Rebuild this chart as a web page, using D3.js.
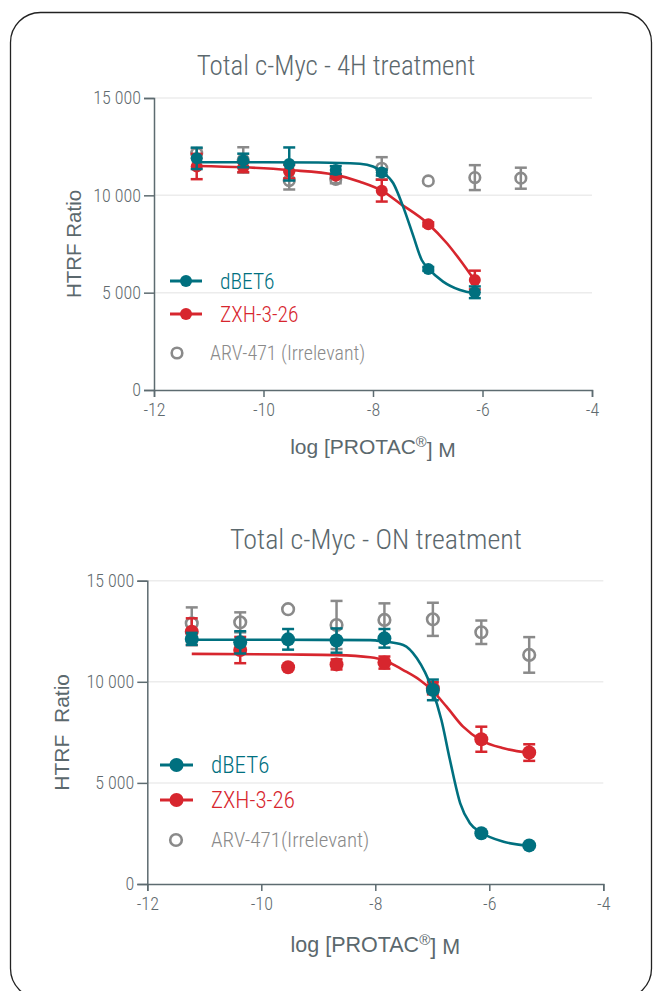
<!DOCTYPE html>
<meta charset="utf-8">
<style>
body { margin: 0; background: #fff; }
svg text { font-family: "Roboto Condensed", "Liberation Sans Narrow", "Liberation Sans", sans-serif; font-weight: 300; }
svg text.wide { font-family: "Liberation Sans", Arial, sans-serif; font-weight: 400; }
.axis path, .axis line { stroke: #5d6b70; stroke-width: 1.5px; }
.axis text { fill: #5f6a6e; }
.grid line { stroke: #ececec; stroke-width: 1.5px; }
</style>
<svg width="654" height="991"></svg>
<script src="https://d3js.org/d3.v7.min.js"></script>
<script>

// log [PROTAC] M, same dilution series in both experiments
var doses = [-11.22, -10.37, -9.53, -8.68, -7.84, -6.99, -6.14, -5.30];
var xTicks = [-12, -10, -8, -6, -4];
var yTicks = [0, 5000, 10000, 15000];

// 4H treatment
var h4_dbet6 = [11900, 11790, 11610, 11300, 11170, 6220, 5020];
var h4_dbet6_err = [550, 350, 850, 200, 150, 100, 300];
var h4_zxh = [11480, 11440, 11220, 11000, 10240, 8510, 5650];
var h4_zxh_err = [650, 250, 350, 100, 560, 100, 480];
var h4_arv = [12160, 11820, 10760, 10820, 11390, 10740, 10910, 10880];
var h4_arv_err = [250, 650, 460, 200, 570, 0, 640, 540];

// fitted curves
var h4_dbet6_fitX = [-11.22, -10, -9, -8.24, -8.0, -7.84, -7.63, -7.45, -7.26, -7.11, -6.99, -6.72, -6.41, -6.14];
var h4_dbet6_fitY = [11700, 11700, 11690, 11620, 11480, 11220, 10620, 9420, 7880, 6680, 6250, 5570, 5140, 4970];
var h4_zxh_fitX = [-11.22, -10.37, -9.53, -8.68, -8.24, -7.84, -7.51, -6.99, -6.65, -6.41, -6.14];
var h4_zxh_fitY = [11510, 11440, 11300, 11050, 10700, 10240, 9590, 8530, 7540, 6680, 5620];

// ON treatment
var on_dbet6 = [12120, 11950, 12100, 12040, 12150, 9600, 2510, 1910];
var on_dbet6_err = [300, 550, 510, 600, 460, 510, 0, 0];
var on_zxh = [12480, 11570, 10720, 10860, 10950, 9680, 7160, 6500];
var on_zxh_err = [660, 650, 0, 250, 300, 300, 620, 410];
var on_arv = [12890, 12940, 13590, 12810, 13060, 13090, 12450, 11330];
var on_arv_err = [790, 495, 0, 1190, 820, 820, 580, 880];

var on_dbet6_fitX = [-11.22, -10, -9, -8.09, -7.86, -7.51, -7.27, -7.01, -6.84, -6.69, -6.51, -6.34, -6.15, -5.75, -5.32];
var on_dbet6_fitY = [12080, 12078, 12075, 12060, 12000, 11820, 11160, 9680, 8110, 6130, 3990, 3000, 2560, 2090, 1890];
var on_zxh_fitX = [-11.22, -9.5, -8.68, -8.09, -7.86, -7.51, -7.22, -7.01, -6.75, -6.46, -6.15, -5.75, -5.32];
var on_zxh_fitY = [11380, 11350, 11320, 11210, 11080, 10580, 10090, 9600, 8770, 7780, 7120, 6710, 6490];

var TEAL = "#00707f", RED = "#d7262e", GRAY = "#8a8a8a", TXT = "#5b686d";

var svg = d3.select("svg");

svg.append("rect")
  .attr("x", 10.5).attr("y", 12.5)
  .attr("width", 641).attr("height", 986)
  .attr("rx", 30)
  .attr("fill", "none").attr("stroke", "#222").attr("stroke-width", 1.3);

var fmt = d3.formatLocale({decimal: ".", thousands: " ", grouping: [3], currency: ["", ""]}).format(",d");
var fmtX = function(d) { return String(d); };

function zip(xs, ys) { return xs.map(function(x, i) { return [x, ys[i]]; }); }

function panel(o) {
  var x = d3.scaleLinear().domain([-12, -4]).range([o.left, o.right]);
  var y = d3.scaleLinear().domain([0, 15000]).range([o.bottom, o.top]);
  var g = svg.append("g");

  g.append("g").attr("class", "grid")
    .selectAll("line").data(yTicks.slice(1)).enter().append("line")
    .attr("x1", o.left).attr("x2", o.right)
    .attr("y1", function(d) { return y(d); }).attr("y2", function(d) { return y(d); });

  g.append("g").attr("class", "axis")
    .attr("transform", "translate(0," + o.bottom + ")")
    .call(d3.axisBottom(x).tickValues(xTicks).tickFormat(fmtX).tickSizeOuter(0).tickSize(7).tickPadding(6))
    .call(function(a) { a.selectAll("text").style("font-size", o.tickFont + "px"); });

  g.append("g").attr("class", "axis")
    .attr("transform", "translate(" + o.left + ",0)")
    .call(d3.axisLeft(y).tickValues(yTicks).tickFormat(fmt).tickSizeOuter(0).tickSize(10).tickPadding(3))
    .call(function(a) { a.selectAll("text").style("font-size", o.tickFont + "px"); });

  g.append("text")
    .attr("x", o.titleX).attr("y", o.titleY)
    .attr("text-anchor", "middle").attr("fill", TXT)
    .style("font-size", o.titleFont + "px").text(o.title);

  var xt = g.append("text").attr("class", "wide")
    .attr("x", (o.left + o.right) / 2).attr("y", o.xTitleY)
    .attr("text-anchor", "middle").attr("fill", TXT)
    .style("font-size", o.axisFont + "px");
  xt.append("tspan").text("log [PROTAC");
  xt.append("tspan").attr("dy", "-0.45em").style("font-size", (o.axisFont * 0.7) + "px").text("®");
  xt.append("tspan").attr("dy", "0.45em").text("] M");

  g.append("text").attr("class", "wide")
    .attr("transform", "translate(" + o.yTitleX + "," + ((o.top + o.bottom) / 2) + ") rotate(-90)")
    .attr("text-anchor", "middle").attr("fill", TXT)
    .style("font-size", o.yAxisFont + "px").style("white-space", "pre")
    .text(o.yTitle);

  var line = d3.line()
    .x(function(d) { return x(d[0]); })
    .y(function(d) { return y(d[1]); })
    .curve(d3.curveMonotoneX);

  function errors(vals, errs, color) {
    var d = vals.map(function(v, i) { return {x: doses[i], v: v, e: errs[i]}; }).filter(function(d) { return d.e > 0; });
    var eg = g.append("g").attr("stroke", color).attr("stroke-width", 2.5);
    eg.selectAll(".v").data(d).enter().append("line")
      .attr("x1", function(d) { return x(d.x); }).attr("x2", function(d) { return x(d.x); })
      .attr("y1", function(d) { return y(d.v - d.e); }).attr("y2", function(d) { return y(d.v + d.e); });
    [-1, 1].forEach(function(s) {
      eg.selectAll(".c" + s).data(d).enter().append("line")
        .attr("x1", function(d) { return x(d.x) - 6; }).attr("x2", function(d) { return x(d.x) + 6; })
        .attr("y1", function(d) { return y(d.v + s * d.e); }).attr("y2", function(d) { return y(d.v + s * d.e); });
    });
  }

  function dots(vals, color, open) {
    g.append("g").selectAll("circle").data(vals).enter().append("circle")
      .attr("cx", function(d, i) { return x(doses[i]); })
      .attr("cy", function(d) { return y(d); })
      .attr("r", open ? o.openR : o.dotR)
      .attr("fill", open ? "none" : color)
      .attr("stroke", open ? color : "none")
      .attr("stroke-width", 2.6);
  }

  // ARV-471 (no fit)
  errors(o.arv, o.arvErr, GRAY);
  dots(o.arv, GRAY, true);

  // ZXH-3-26
  g.append("path").datum(zip(o.zxhFitX, o.zxhFitY))
    .attr("d", line).attr("fill", "none").attr("stroke", RED).attr("stroke-width", 2.6);
  errors(o.zxh, o.zxhErr, RED);
  dots(o.zxh, RED, false);

  // dBET6
  g.append("path").datum(zip(o.dbetFitX, o.dbetFitY))
    .attr("d", line).attr("fill", "none").attr("stroke", TEAL).attr("stroke-width", 2.6);
  errors(o.dbet, o.dbetErr, TEAL);
  dots(o.dbet, TEAL, false);

  // legend
  var L = o.legend;
  [[TEAL, "dBET6", 0], [RED, "ZXH-3-26", 1]].forEach(function(it) {
    var ly = L.y + it[2] * L.gap;
    g.append("line").attr("x1", L.x1).attr("x2", L.x2).attr("y1", ly).attr("y2", ly)
      .attr("stroke", it[0]).attr("stroke-width", 3);
    g.append("circle").attr("cx", (L.x1 + L.x2) / 2).attr("cy", ly).attr("r", o.dotR).attr("fill", it[0]);
    g.append("text").attr("x", L.tx).attr("y", ly).attr("dy", "0.35em")
      .attr("fill", it[0]).style("font-size", L.font + "px").text(it[1]);
  });
  g.append("circle").attr("cx", L.cx).attr("cy", L.y3).attr("r", o.openR)
    .attr("fill", "none").attr("stroke", GRAY).attr("stroke-width", 2.6);
  g.append("text").attr("x", L.tx3).attr("y", L.y3).attr("dy", "0.35em")
    .attr("fill", GRAY).style("font-size", L.font3 + "px").text(L.arvLabel);
}

panel({
  left: 154, right: 592, top: 98, bottom: 390,
  title: "Total c-Myc - 4H treatment", titleX: 336, titleY: 74.5, titleFont: 27,
  xTitleY: 454, yTitleX: 81, yTitle: "HTRF Ratio", axisFont: 21, yAxisFont: 20.5, tickFont: 18,
  dotR: 6, openR: 5.3,
  dbet: h4_dbet6, dbetErr: h4_dbet6_err, dbetFitX: h4_dbet6_fitX, dbetFitY: h4_dbet6_fitY,
  zxh: h4_zxh, zxhErr: h4_zxh_err, zxhFitX: h4_zxh_fitX, zxhFitY: h4_zxh_fitY,
  arv: h4_arv, arvErr: h4_arv_err,
  legend: {x1: 170, x2: 202, y: 281, gap: 33, tx: 220, font: 21.5,
           cx: 177, y3: 353, tx3: 210, font3: 20, arvLabel: "ARV-471 (Irrelevant)"}
});

panel({
  left: 147.3, right: 603.3, top: 580.7, bottom: 884,
  title: "Total c-Myc - ON treatment", titleX: 376, titleY: 548.5, titleFont: 28,
  xTitleY: 951.5, yTitleX: 69, yTitle: "HTRF  Ratio", axisFont: 21.5, yAxisFont: 21, tickFont: 18,
  dotR: 7, openR: 5.8,
  dbet: on_dbet6, dbetErr: on_dbet6_err, dbetFitX: on_dbet6_fitX, dbetFitY: on_dbet6_fitY,
  zxh: on_zxh, zxhErr: on_zxh_err, zxhFitX: on_zxh_fitX, zxhFitY: on_zxh_fitY,
  arv: on_arv, arvErr: on_arv_err,
  legend: {x1: 160, x2: 193, y: 765, gap: 35, tx: 211, font: 23,
           cx: 176, y3: 840, tx3: 211, font3: 21, arvLabel: "ARV-471(Irrelevant)"}
});

</script>
